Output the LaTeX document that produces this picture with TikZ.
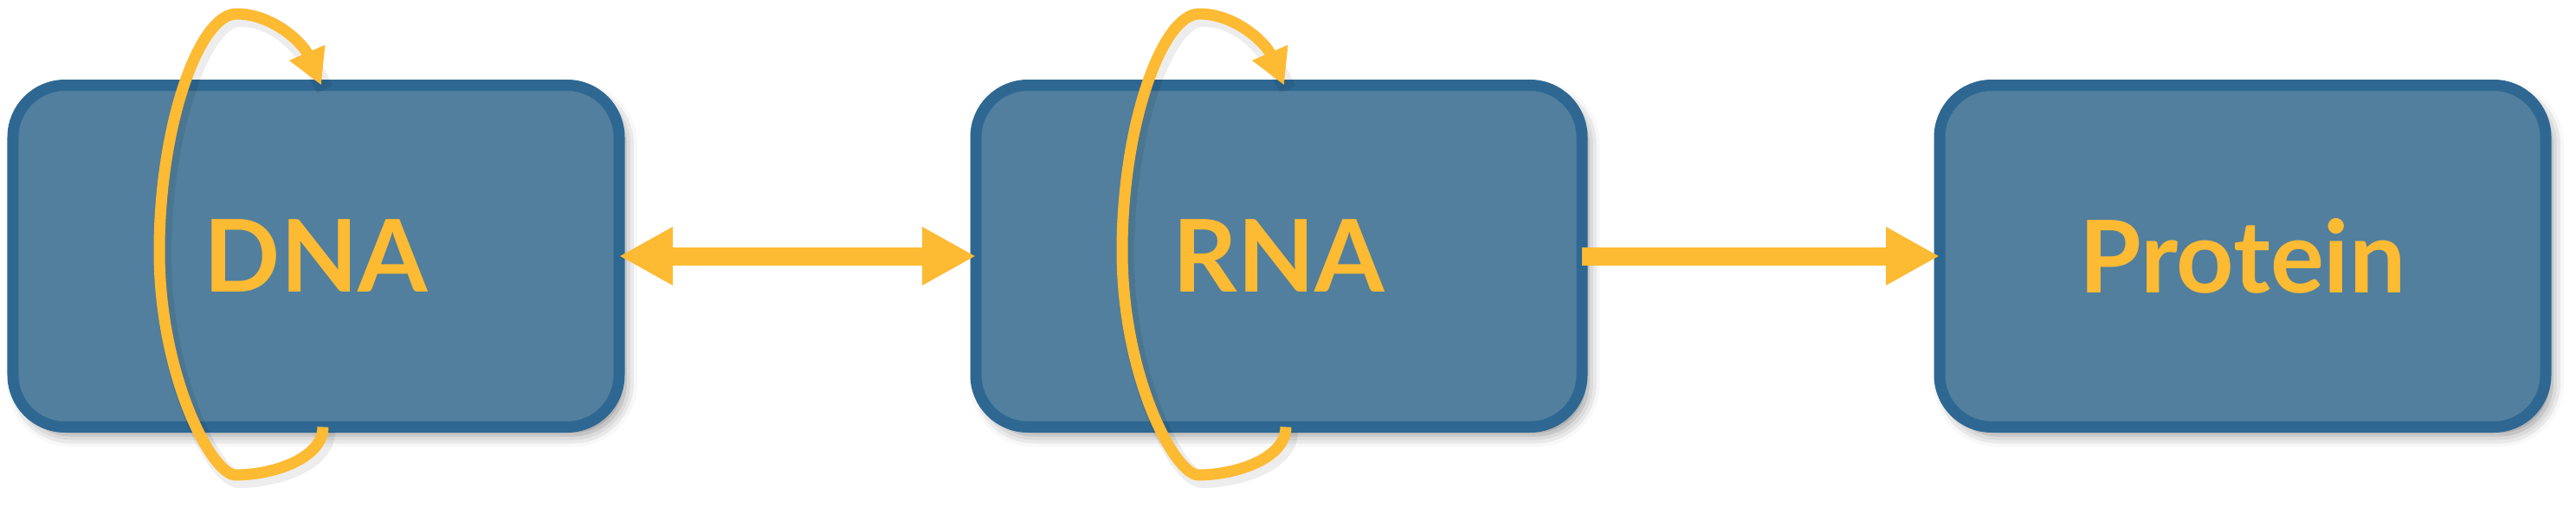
\documentclass[tikz,border=0pt]{standalone}
\usepackage{fontspec}
\setmainfont{Lato}
\usetikzlibrary{positioning,arrows.meta,shadows.blur}

\definecolor{boxline}{HTML}{2E6892}
\definecolor{boxfill}{HTML}{517F9D}
\definecolor{gold}{HTML}{FDBA33}

\tikzset{
  molbox/.style={rectangle, rounded corners=0.6cm, draw=boxline, fill=boxfill,
    line width=0.13cm, minimum width=7cm, minimum height=3.95cm, outer sep=0pt,
    text=gold, font=\fontsize{33}{40}\selectfont\bfseries,
    blur shadow={shadow xshift=0.07cm, shadow yshift=-0.09cm,
      shadow blur radius=0.14cm, shadow opacity=45}},
  bighead/.tip={Triangle[length=0.62cm, width=0.63cm]},
  turnhead/.tip={Triangle[length=0.41cm, width=0.42cm]},
  flow/.style={draw=gold, line width=0.21cm},
  turnline/.style={draw=gold, line width=0.13cm, -turnhead},
  turnshade/.style={draw=black, opacity=0.07, line width=0.2cm, shift={(0.04,-0.05)}}
}

% one turn round a box, drawn about the box centre
\newcommand{\turnpath}{(0.08,-1.975)
  .. controls (0.08,-2.34) and (-0.5,-2.53) .. (-0.93,-2.53)
  .. controls (-1.2,-2.53) and (-1.81,-1.39) .. (-1.81,0.06)
  .. controls (-1.81,1.51) and (-1.35,2.80) .. (-0.92,2.80)
  .. controls (-0.5,2.80) and (-0.15,2.46) .. (0.06,1.975)}

\begin{document}
\begin{tikzpicture}

\useasboundingbox (0,0) rectangle (29.75,5.85);

% Boxes
\node[molbox] (dna) at (3.65,2.89) {DNA};
\node[molbox, right=4.12cm of dna] (rna) {RNA};
\node[molbox, right=4.13cm of rna] (protein) {Protein};

% Transcription and translation
\draw[flow, bighead-bighead] (dna.east) -- (rna.west);
\draw[flow, -bighead] (rna.east) -- (protein.west);

% Replication turns
\foreach \n in {dna,rna}{
  \begin{scope}[shift={(\n.center)}]
    \draw[turnshade] \turnpath;
    \draw[turnline] \turnpath;
  \end{scope}
}

\end{tikzpicture}
\end{document}
